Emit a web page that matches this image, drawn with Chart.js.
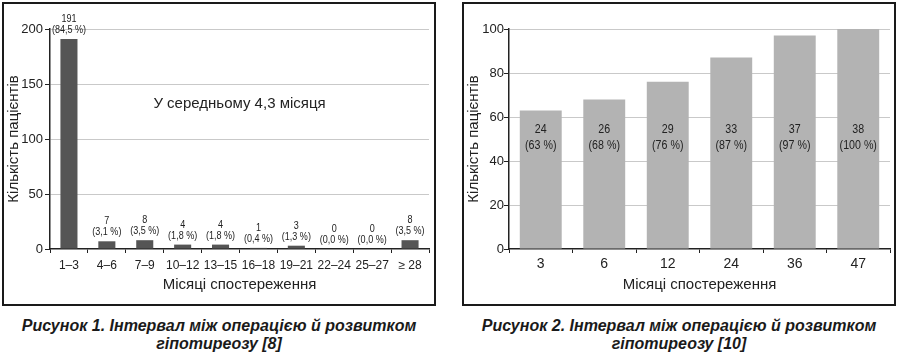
<!DOCTYPE html>
<html>
<head>
<meta charset="utf-8">
<title>Інтервал між операцією й розвитком гіпотиреозу</title>
<script src="https://cdn.jsdelivr.net/npm/chart.js@4.4.0/dist/chart.umd.min.js"></script>
<style>
body{margin:0;background:#fff;width:900px;height:354px;position:relative;overflow:hidden;font-family:"Liberation Sans",Arial,sans-serif;}
.box{position:absolute;top:2px;width:434px;height:304px;border:2px solid #1a1a1a;box-sizing:border-box;}
#box1{left:2px;}
#box2{left:462px;}
.wrap{position:absolute;top:0;}
#wrap1{left:0;}
#wrap2{left:460px;}
.cap{position:absolute;top:317px;width:434px;text-align:center;font-weight:bold;font-style:italic;font-size:16px;line-height:18px;color:#1a1a1a;}
#cap1{left:2px;}
#cap2{left:462px;}
</style>
</head>
<body>
<div class="box" id="box1"></div>
<div class="box" id="box2"></div>
<div class="wrap" id="wrap1"><canvas id="chart1" width="450" height="300"></canvas></div>
<div class="wrap" id="wrap2"><canvas id="chart2" width="440" height="300"></canvas></div>
<div class="cap" id="cap1">Рисунок 1. Інтервал між операцією й розвитком<br>гіпотиреозу [8]</div>
<div class="cap" id="cap2">Рисунок 2. Інтервал між операцією й розвитком<br>гіпотиреозу [10]</div>
<script>
// figure 1
var months1 = ['1–3', '4–6', '7–9', '10–12', '13–15', '16–18', '19–21', '22–24', '25–27', '≥ 28'];
var patients1 = [191, 7, 8, 4, 4, 1, 3, 0, 0, 8];
var shares1 = ['84,5', '3,1', '3,5', '1,8', '1,8', '0,4', '1,3', '0,0', '0,0', '3,5'];
var yTicks1 = [0, 50, 100, 150, 200];
var note1 = 'У середньому 4,3 місяця';
var noteAt1 = 132;

// figure 2
var months2 = ['3', '6', '12', '24', '36', '47'];
var patients2 = [24, 26, 29, 33, 37, 38];
var shares2 = [63, 68, 76, 87, 97, 100];
var yTicks2 = [0, 20, 40, 60, 80, 100];
var labelAt2 = 50;

var yTitle = 'Кількість пацієнтів';
var xTitle = 'Місяці спостереження';

Chart.defaults.font.family = '"Liberation Sans", Arial, sans-serif';
Chart.defaults.color = '#222';

// narrow text: squeeze regular font horizontally
function narrowText(ctx, text, x, y) {
  ctx.save();
  ctx.translate(x, y);
  ctx.scale(0.82, 1);
  ctx.fillText(text, 0, 0);
  ctx.restore();
}

function makeLabels(lines, font, dy, fixedValue, note, noteValue) {
  return {
    id: 'barLabels',
    afterDatasetsDraw: function(chart) {
      var ctx = chart.ctx;
      var yScale = chart.scales.y;
      var meta = chart.getDatasetMeta(0);
      ctx.save();
      ctx.fillStyle = '#222';
      ctx.textAlign = 'center';
      ctx.textBaseline = 'middle';
      ctx.font = font;
      meta.data.forEach(function(bar, i) {
        var y = fixedValue != null ? yScale.getPixelForValue(fixedValue) : bar.y;
        narrowText(ctx, lines[i][0], bar.x, y + dy[0]);
        narrowText(ctx, lines[i][1], bar.x, y + dy[1]);
      });
      if (note) {
        var a = chart.chartArea;
        ctx.font = '15px "Liberation Sans", Arial, sans-serif';
        ctx.fillText(note, (a.left + a.right) / 2, yScale.getPixelForValue(noteValue));
      }
      ctx.restore();
    }
  };
}

function baseOptions(opt) {
  return {
    responsive: false,
    animation: false,
    devicePixelRatio: 1,
    layout: { padding: { top: 29, right: opt.padRight, left: 0, bottom: 0 } },
    plugins: { legend: { display: false }, tooltip: { enabled: false } },
    scales: {
      x: {
        afterFit: function(s) { s.height = 51; },
        grid: { offset: true, drawOnChartArea: false, drawTicks: true, tickLength: 4, tickColor: '#222', tickWidth: 1 },
        border: { color: '#222', width: 1.5 },
        ticks: { font: { size: opt.xSize }, padding: opt.xPad, color: '#222', maxRotation: 0, autoSkip: false },
        title: { display: true, text: xTitle, font: { size: 15 }, color: '#222', padding: { top: 0, bottom: 6 } }
      },
      y: {
        min: 0,
        max: opt.yTicks[opt.yTicks.length - 1],
        afterFit: function(s) { s.width = opt.yWidth; },
        afterBuildTicks: function(s) { s.ticks = opt.yTicks.map(function(v) { return { value: v }; }); },
        grid: {
          color: function(c) { return c.tick && c.tick.value === 0 ? 'rgba(0,0,0,0)' : '#c9c9c9'; },
          tickColor: '#222', tickLength: 5, lineWidth: 1
        },
        border: { color: '#222', width: 1.5 },
        ticks: { font: { size: opt.ySize }, padding: opt.yPad, color: '#222' },
        title: { display: true, text: yTitle, font: { size: 15 }, color: '#222', padding: { top: 5, bottom: 0 } }
      }
    }
  };
}

var lines1 = patients1.map(function(v, i) { return [String(v), '(' + shares1[i] + ' %)']; });
var lines2 = patients2.map(function(v, i) { return [String(v), '(' + shares2[i] + ' %)']; });

new Chart(document.getElementById('chart1'), {
  type: 'bar',
  data: {
    labels: months1,
    datasets: [{ data: patients1, backgroundColor: '#555555', barPercentage: 0.45, categoryPercentage: 1 }]
  },
  options: baseOptions({ padRight: 21, yWidth: 50, yTicks: yTicks1, xSize: 12, xPad: 5, ySize: 13, yPad: 2 }),
  plugins: [makeLabels(lines1, '11px "Liberation Sans", Arial, sans-serif', [-20, -9], null, note1, noteAt1)]
});

new Chart(document.getElementById('chart2'), {
  type: 'bar',
  data: {
    labels: months2,
    datasets: [{ data: shares2, backgroundColor: '#b3b3b3', barPercentage: 0.66, categoryPercentage: 1 }]
  },
  options: baseOptions({ padRight: 10, yWidth: 49, yTicks: yTicks2, xSize: 14, xPad: 3, ySize: 13, yPad: 0 }),
  plugins: [makeLabels(lines2, '13px "Liberation Sans", Arial, sans-serif', [-10, 6], labelAt2, null, 0)]
});
</script>
</body>
</html>
